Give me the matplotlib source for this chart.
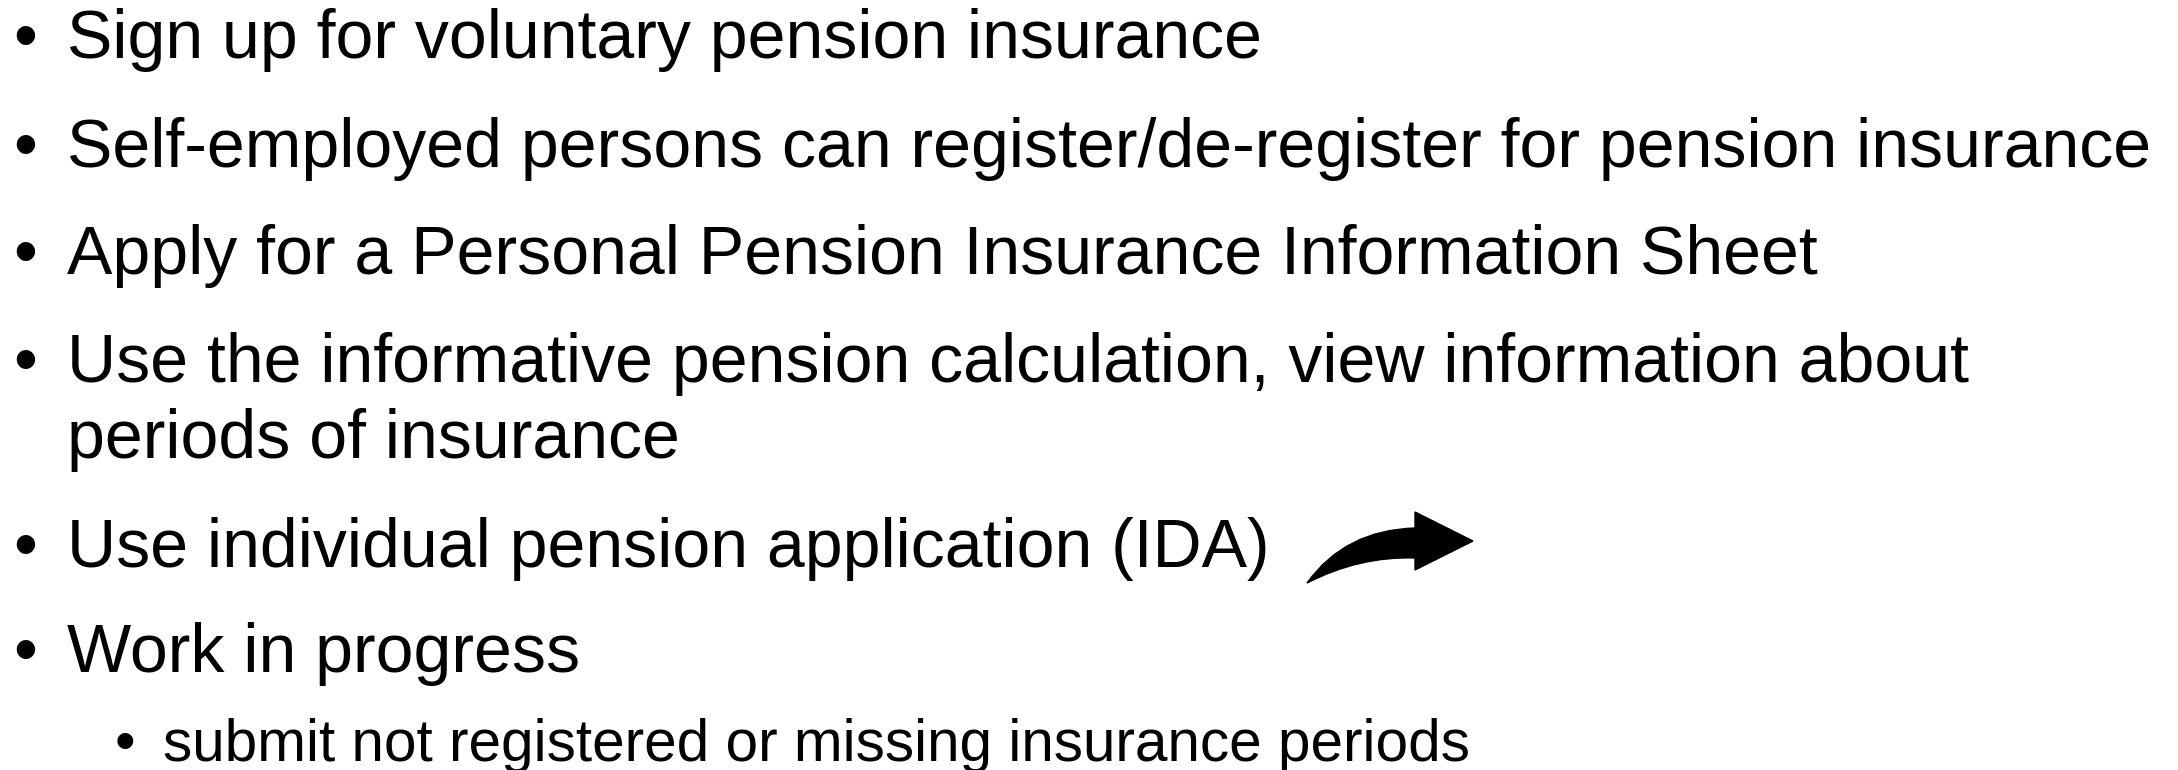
import matplotlib
matplotlib.use("Agg")
import matplotlib.pyplot as plt
from matplotlib.path import Path
from matplotlib.patches import PathPatch

plt.rcParams["font.family"] = ["Liberation Sans Narrow", "Liberation Sans", "DejaVu Sans"]

# slide content
main_items = [
    "Sign up for voluntary pension insurance",
    "Self-employed persons can register/de-register for pension insurance",
    "Apply for a Personal Pension Insurance Information Sheet",
    "Use the informative pension calculation, view information about",
    "periods of insurance",
    "Use individual pension application (IDA)",
    "Work in progress",
]
main_baselines = [58, 167, 274, 382, 458, 567, 672]
main_bullets = [True, True, True, True, False, True, True]
sub_items = ["submit not registered or missing insurance periods"]
sub_baselines = [761]

W, H = 2178, 770
fig = plt.figure(figsize=(W / 100, H / 100), dpi=100)
ax = fig.add_axes([0, 0, 1, 1])
ax.set_xlim(0, W)
ax.set_ylim(H, 0)
ax.axis("off")

x_text, x_bullet = 67, 25
x_sub_text, x_sub_bullet = 163, 125
target_main = 2085   # px width of the longest line
target_sub = 1310

texts = []
for txt, yb in zip(main_items, main_baselines):
    texts.append(ax.text(x_text, yb, txt, fontsize=50, va="baseline", ha="left", color="black"))
subs = []
for txt, yb in zip(sub_items, sub_baselines):
    subs.append(ax.text(x_sub_text, yb, txt, fontsize=44, va="baseline", ha="left", color="black"))

fig.canvas.draw()
r = fig.canvas.get_renderer()
w_main = texts[1].get_window_extent(r).width
fs_main = 50 * target_main / w_main
for t in texts:
    t.set_fontsize(fs_main)
w_sub = subs[0].get_window_extent(r).width
fs_sub = 44 * target_sub / w_sub
for t in subs:
    t.set_fontsize(fs_sub)

for yb, b in zip(main_baselines, main_bullets):
    if b:
        ax.text(x_bullet, yb, "\u2022", fontsize=fs_main, va="baseline", ha="center")
for yb in sub_baselines:
    ax.text(x_sub_bullet, yb, "\u2022", fontsize=fs_sub, va="baseline", ha="center")

# curved arrow next to the IDA item
verts = [
    (1307, 583), (1345, 530), (1415, 528),
    (1415, 512), (1473, 541), (1415, 570),
    (1415, 558), (1360, 556), (1307, 583),
]
codes = [Path.MOVETO, Path.CURVE3, Path.CURVE3,
         Path.LINETO, Path.LINETO, Path.LINETO,
         Path.LINETO, Path.CURVE3, Path.CURVE3]
ax.add_patch(PathPatch(Path(verts, codes), facecolor="black", edgecolor="black", lw=1))

fig.savefig("out.png", dpi=100, facecolor="white")
